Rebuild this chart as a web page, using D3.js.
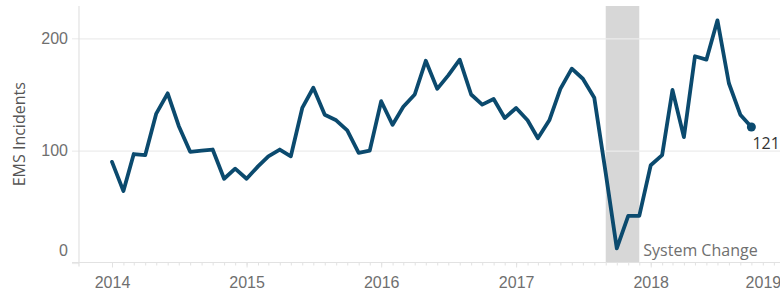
<!DOCTYPE html>
<html>
<head>
<meta charset="utf-8">
<script src="https://cdn.jsdelivr.net/npm/d3@7"></script>
<style>
  body { margin: 0; background: #fff; }
  svg { display: block; font-family: "Open Sans", sans-serif; }
</style>
</head>
<body>
<svg id="chart" width="780" height="294"></svg>
<script>
// monthly EMS incidents, one array per year (Jan..Dec)
var years = [2014, 2015, 2016, 2017, 2018];
var incidents2014 = [90, 64, 97, 96, 133, 151, 122, 99, 100, 101, 75, 84];
var incidents2015 = [75, 86, 95, 101, 95, 138, 156, 132, 127, 118, 98, 100];
var incidents2016 = [144, 123, 139, 150, 180, 155, 167, 181, 150, 141, 146, 129];
var incidents2017 = [138, 127, 111, 127, 155, 173, 164, 147, 80, 13, 42, 42];
var incidents2018 = [87, 96, 154, 112, 184, 181, 216, 160, 132, 121];
var yTicks = [0, 100, 200];
var xTickYears = [2014, 2015, 2016, 2017, 2018, 2019];
var shadeFrom = [2017, 8];   // year, month index (Sep)
var shadeTo = [2017, 11];    // Dec
var shadeLabel = "System Change";
var yTitle = "EMS Incidents";

var byYear = [incidents2014, incidents2015, incidents2016, incidents2017, incidents2018];
var lineData = [];
years.forEach(function(yr, i) {
    byYear[i].forEach(function(v, m) {
        lineData.push({ time: new Date(yr, m, 1), value: v });
    });
});

var svg = d3.select('#chart'),
    PLOT = { left: 79, right: 780, top: 6, bottom: 262.5 };

var xRange = d3.scaleTime()
    .domain([new Date(2014, 0, 1), new Date(2019, 0, 1)])
    .range([112, 785.3]);
var yRange = d3.scaleLinear()
    .domain([0, 200])
    .range([263, 38.3]);

var GRID = '#ececec', AXIS = '#e2e2e2', TICKTEXT = '#6f6f6f';

// shaded "system change" band
var bandX0 = xRange(new Date(shadeFrom[0], shadeFrom[1], 1)),
    bandX1 = xRange(new Date(shadeTo[0], shadeTo[1], 1));
svg.append('rect')
    .attr('x', bandX0)
    .attr('y', PLOT.top)
    .attr('width', bandX1 - bandX0)
    .attr('height', PLOT.bottom - PLOT.top)
    .attr('fill', '#d7d7d7');

// horizontal gridlines
var grid = svg.append('g')
    .attr('transform', 'translate(' + PLOT.left + ',0)')
    .call(d3.axisRight(yRange).tickValues(yTicks.filter(function(d) { return d > 0; }))
        .tickSize(PLOT.right - PLOT.left).tickFormat(''));
grid.select('.domain').remove();
grid.selectAll('line').attr('stroke', GRID).attr('stroke-width', 1.2);

// y axis
var yAxis = svg.append('g')
    .attr('transform', 'translate(' + PLOT.left + ',0)')
    .call(d3.axisLeft(yRange).tickValues(yTicks).tickSizeInner(7).tickSizeOuter(0).tickPadding(4));
yAxis.select('.domain').remove();
yAxis.selectAll('line').attr('stroke', GRID).attr('stroke-width', 1.2);
yAxis.selectAll('text')
    .attr('fill', TICKTEXT)
    .style('font-size', '16px')
    .attr('dy', function(d) { return d === 0 ? '-0.45em' : '0.32em'; });

svg.append('line')
    .attr('x1', PLOT.left).attr('x2', PLOT.left)
    .attr('y1', PLOT.top).attr('y2', PLOT.bottom + 4)
    .attr('stroke', AXIS).attr('stroke-width', 1.2);

// x axis: monthly minor ticks + yearly labels
var minor = svg.append('g')
    .attr('transform', 'translate(0,' + PLOT.bottom + ')')
    .call(d3.axisBottom(xRange).ticks(d3.timeMonth.every(1)).tickSize(3).tickFormat(''));
minor.select('.domain').remove();
minor.selectAll('line').attr('stroke', AXIS);

var xAxis = svg.append('g')
    .attr('transform', 'translate(0,' + PLOT.bottom + ')')
    .call(d3.axisBottom(xRange)
        .tickValues(xTickYears.map(function(y) { return new Date(y, 0, 1); }))
        .tickSize(5).tickPadding(9).tickFormat(d3.timeFormat('%Y')));
xAxis.select('.domain').remove();
xAxis.selectAll('line').attr('stroke', AXIS);
xAxis.selectAll('text')
    .attr('fill', TICKTEXT)
    .style('font-size', '16px')
    .attr('dx', function(d) { return d.getFullYear() === 2019 ? '-1.4em' : 0; });

svg.append('line')
    .attr('x1', PLOT.left - 7).attr('x2', PLOT.right)
    .attr('y1', PLOT.bottom).attr('y2', PLOT.bottom)
    .attr('stroke', AXIS).attr('stroke-width', 1.2);

// y axis title
svg.append('text')
    .attr('transform', 'translate(21,' + (PLOT.top + PLOT.bottom) / 2 + ') rotate(-90)')
    .attr('text-anchor', 'middle')
    .attr('dominant-baseline', 'middle')
    .attr('fill', '#555')
    .style('font-size', '16px')
    .text(yTitle);

// band label
svg.append('text')
    .attr('x', bandX1 + 4)
    .attr('y', PLOT.bottom - 7)
    .attr('fill', '#6f6f6f')
    .style('font-size', '16px')
    .text(shadeLabel);

// the line
var lineFunc = d3.line()
    .x(function(d) { return xRange(d.time); })
    .y(function(d) { return yRange(d.value); });

svg.append('path')
    .attr('d', lineFunc(lineData))
    .attr('stroke', '#0b4a6e')
    .attr('stroke-width', 3.8)
    .attr('stroke-linejoin', 'round')
    .attr('stroke-linecap', 'round')
    .attr('fill', 'none');

var last = lineData[lineData.length - 1];
svg.append('circle')
    .attr('cx', xRange(last.time))
    .attr('cy', yRange(last.value))
    .attr('r', 4.5)
    .attr('fill', '#0b4a6e');

svg.append('text')
    .attr('x', xRange(last.time) + 1)
    .attr('y', yRange(last.value) + 22)
    .attr('fill', '#333')
    .style('font-size', '16px')
    .text(last.value);
</script>
</body>
</html>
